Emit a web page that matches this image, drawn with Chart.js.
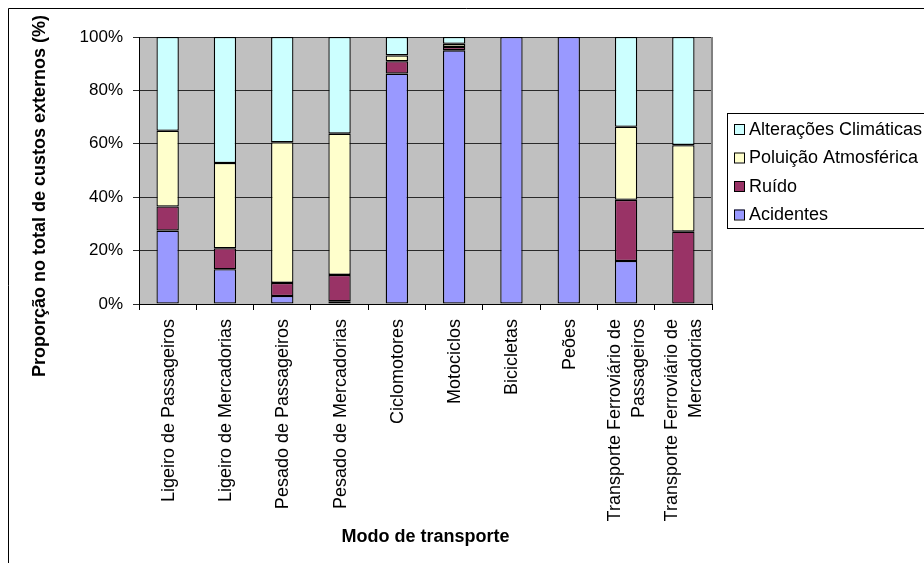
<!DOCTYPE html>
<html lang="pt">
<head>
<meta charset="utf-8">
<title>Proporção no total de custos externos</title>
<script src="https://cdn.jsdelivr.net/npm/chart.js@4.4.1/dist/chart.umd.min.js"></script>
<style>
  html, body { margin: 0; padding: 0; background: #fff; }
  #wrap { width: 924px; height: 563px; position: relative; overflow: hidden; }
  canvas { display: block; }
</style>
</head>
<body>
<div id="wrap"><canvas id="chart" width="924" height="563"></canvas></div>
<script>
/* Dados — proporção (%) de cada componente nos custos externos */
const categories = [
  'Ligeiro de Passageiros',
  'Ligeiro de Mercadorias',
  'Pesado de Passageiros',
  'Pesado de Mercadorias',
  'Ciclomotores',
  'Motociclos',
  'Bicicletas',
  'Peões',
  ['Transporte Ferroviário de', 'Passageiros'],
  ['Transporte Ferroviário de', 'Mercadorias'],
];
const acidentes   = [27.5, 13.0,  3.0,  1.0, 86.3, 95.0, 100, 100, 16.1,  0.0];
const ruido       = [ 9.0,  7.9,  4.9,  9.9,  4.6,  1.3,   0,   0, 22.9, 27.1];
const poluicao    = [28.4, 31.9, 52.7, 52.9,  2.2,  1.2,   0,   0, 27.4, 32.4];
const alteracoes  = [35.1, 47.2, 39.4, 36.2,  6.9,  2.5,   0,   0, 33.6, 40.5];
const yTicks      = [0, 20, 40, 60, 80, 100];

const FONT = "'Liberation Sans', Arial, sans-serif";

/* Fundo da área de desenho, moldura e borda direita cinzenta */
const plotFrame = {
  id: 'plotFrame',
  beforeDraw(chart) {
    const { ctx, chartArea: a } = chart;
    ctx.save();
    ctx.fillStyle = '#c0c0c0';
    ctx.fillRect(a.left, a.top, a.right - a.left, a.bottom - a.top);
    ctx.restore();
  },
  afterDraw(chart) {
    const { ctx, chartArea: a } = chart;
    ctx.save();
    ctx.strokeStyle = '#808080';
    ctx.lineWidth = 2;
    ctx.beginPath();
    ctx.moveTo(a.right, a.top);
    ctx.lineTo(a.right, a.bottom);
    ctx.stroke();
    // moldura exterior do gráfico
    ctx.strokeStyle = '#000';
    ctx.lineWidth = 1;
    ctx.beginPath();
    ctx.moveTo(8.5, chart.height);
    ctx.lineTo(8.5, 8.5);
    ctx.lineTo(chart.width, 8.5);
    ctx.stroke();
    ctx.restore();
  },
};

/* Rótulos das categorias, verticais e centrados no tick (multi-linha incluído) */
const xLabels = {
  id: 'xLabels',
  afterDraw(chart) {
    const { ctx } = chart;
    const xs = chart.scales.x;
    const lineH = 24;
    ctx.save();
    ctx.font = '18px ' + FONT;
    ctx.fillStyle = '#000';
    ctx.textAlign = 'right';
    ctx.textBaseline = 'middle';
    chart.data.labels.forEach((lab, i) => {
      const lines = Array.isArray(lab) ? lab : [lab];
      const px = xs.getPixelForTick(i);
      ctx.save();
      ctx.translate(px, xs.top + 15);
      ctx.rotate(-Math.PI / 2);
      lines.forEach((t, j) => {
        ctx.fillText(t, 0, (j - (lines.length - 1) / 2) * lineH + 1);
      });
      ctx.restore();
    });
    ctx.restore();
  },
};

/* Título do eixo Y (centrado como no original) */
const yTitle = {
  id: 'yTitle',
  afterDraw(chart) {
    const { ctx } = chart;
    ctx.save();
    ctx.translate(40, 196);
    ctx.rotate(-Math.PI / 2);
    ctx.font = 'bold 18px ' + FONT;
    ctx.fillStyle = '#000';
    ctx.textAlign = 'center';
    ctx.textBaseline = 'middle';
    ctx.fillText('Proporção no total de custos externos (%)', 0, 0);
    ctx.restore();
  },
};

/* Legenda em caixa, à direita (ordem invertida) */
const boxLegend = {
  id: 'boxLegend',
  afterDraw(chart) {
    const { ctx } = chart;
    const x = 727, y = 113, w = 260, h = 115;
    ctx.save();
    ctx.fillStyle = '#fff';
    ctx.fillRect(x, y, w, h);
    ctx.strokeStyle = '#000';
    ctx.lineWidth = 1;
    ctx.strokeRect(x + 0.5, y + 0.5, w, h);
    ctx.font = '18px ' + FONT;
    ctx.textBaseline = 'middle';
    const sets = chart.data.datasets.slice().reverse();
    sets.forEach((ds, i) => {
      const cy = 129 + i * 28.5;
      ctx.fillStyle = ds.backgroundColor;
      ctx.fillRect(734, cy - 5, 10, 10);
      ctx.strokeStyle = '#000';
      ctx.strokeRect(734.5, cy - 4.5, 10, 10);
      ctx.fillStyle = '#000';
      ctx.fillText(ds.label, 749, cy + 1);
    });
    ctx.restore();
  },
};

const barStyle = {
  borderColor: '#000',
  borderWidth: 1.3,
  borderSkipped: false,
  barPercentage: 0.39,
  categoryPercentage: 1,
};

new Chart(document.getElementById('chart'), {
  type: 'bar',
  data: {
    labels: categories,
    datasets: [
      { label: 'Acidentes',             data: acidentes,  backgroundColor: '#9999ff', ...barStyle },
      { label: 'Ruído',                 data: ruido,      backgroundColor: '#993366', ...barStyle },
      { label: 'Poluição Atmosférica',  data: poluicao,   backgroundColor: '#ffffcc', ...barStyle },
      { label: 'Alterações Climáticas', data: alteracoes, backgroundColor: '#ccffff', ...barStyle },
    ],
  },
  options: {
    responsive: false,
    animation: false,
    devicePixelRatio: 1,
    layout: { padding: { top: 37, right: 212, left: 0, bottom: 0 } },
    plugins: {
      legend: { display: false },
      tooltip: { enabled: false },
    },
    scales: {
      x: {
        stacked: true,
        afterFit: s => { s.height = 563 - 304; },
        grid: {
          offset: true,
          drawOnChartArea: false,
          drawTicks: true,
          tickLength: 6,
          color: '#000',
        },
        border: { color: '#000', width: 1 },
        ticks: { display: false, autoSkip: false },
        title: {
          display: true,
          text: 'Modo de transporte',
          color: '#000',
          font: { family: FONT, size: 18, weight: 'bold' },
          padding: { top: 0, bottom: 15 },
        },
      },
      y: {
        stacked: true,
        min: 0,
        max: 100,
        afterFit: s => { s.width = 139; },
        afterBuildTicks: s => { s.ticks = yTicks.map(v => ({ value: v })); },
        grid: { color: '#2a2a2a', tickLength: 6, lineWidth: 1 },
        border: { color: '#000', width: 1 },
        ticks: {
          padding: 10,
          color: '#000',
          font: { family: FONT, size: 17 },
          callback: v => v + '%',
        },
      },
    },
  },
  plugins: [plotFrame, xLabels, yTitle, boxLegend],
});
</script>
</body>
</html>
